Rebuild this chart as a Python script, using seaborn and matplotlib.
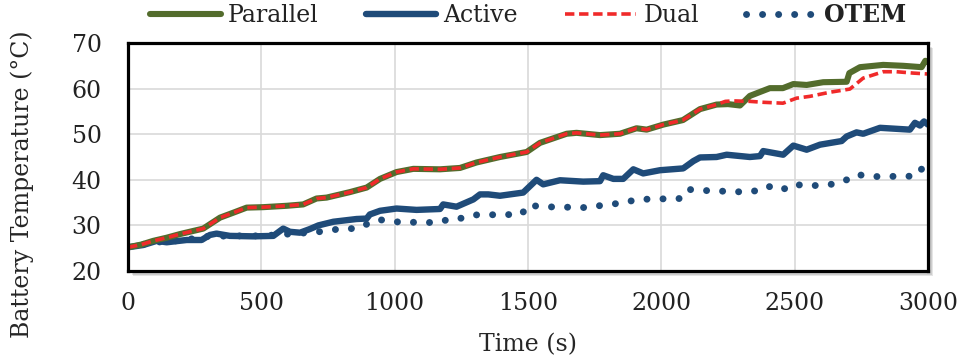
import numpy as np
import pandas as pd
import matplotlib
matplotlib.use("Agg")
import matplotlib.pyplot as plt
from matplotlib.patches import Rectangle
import seaborn as sns

# ---- data: battery temperature (degC) versus time (s) ----
parallel_t = [0, 50, 94, 145, 195, 282, 345, 400, 445, 507, 595, 657, 707, 745, 832, 895,
              945, 1007, 1070, 1170, 1245, 1307, 1395, 1495, 1545, 1645, 1682, 1770, 1845,
              1907, 1945, 2007, 2081, 2145, 2207, 2250, 2295, 2332, 2407, 2456, 2495, 2545,
              2607, 2695, 2705, 2745, 2832, 2907, 2976, 2990, 3000]
parallel_T = [25.2, 25.8, 26.6, 27.3, 28.1, 29.3, 31.7, 32.9, 33.9, 34.0, 34.3, 34.6, 35.9, 36.1, 37.3, 38.3,
              40.2, 41.7, 42.4, 42.3, 42.6, 43.8, 45.0, 46.1, 48.1, 50.1, 50.3, 49.8, 50.1,
              51.3, 51.0, 52.1, 53.1, 55.5, 56.5, 56.6, 56.3, 58.4, 60.1, 60.1, 61.0, 60.8,
              61.4, 61.5, 63.4, 64.7, 65.2, 65.0, 64.7, 66.1, 65.9]

dual_t = [0, 50, 94, 145, 195, 282, 345, 400, 445, 507, 595, 657, 707, 745, 832, 895,
          945, 1007, 1070, 1170, 1245, 1307, 1395, 1495, 1545, 1645, 1682, 1770, 1845,
          1907, 1945, 2007, 2081, 2145, 2207, 2240, 2270, 2332, 2382, 2456, 2507, 2557,
          2632, 2707, 2757, 2832, 2882, 2945, 3000]
dual_T = [25.2, 25.8, 26.6, 27.3, 28.1, 29.3, 31.7, 32.9, 33.9, 34.0, 34.3, 34.6, 35.9, 36.1, 37.3, 38.3,
          40.2, 41.7, 42.4, 42.3, 42.6, 43.8, 45.0, 46.1, 48.1, 50.1, 50.3, 49.8, 50.1,
          51.3, 51.0, 52.1, 53.1, 55.5, 56.5, 57.2, 57.3, 57.2, 57.0, 56.8, 57.9, 58.3,
          59.2, 59.9, 62.3, 63.7, 63.7, 63.4, 63.2]

active_t = [0, 57, 107, 145, 220, 276, 307, 332, 382, 470, 545, 582, 607, 645, 682, 714,
            770, 857, 895, 907, 945, 1007, 1082, 1170, 1182, 1232, 1295, 1320, 1351, 1395,
            1482, 1532, 1557, 1620, 1707, 1770, 1782, 1820, 1857, 1895, 1932, 1995, 2082,
            2120, 2145, 2207, 2245, 2332, 2370, 2382, 2457, 2495, 2545, 2595, 2676, 2695,
            2732, 2757, 2820, 2932, 2951, 2970, 2985, 3000]
active_T = [25.2, 25.7, 26.6, 26.3, 26.8, 26.8, 27.9, 28.2, 27.7, 27.6, 27.7, 29.3, 28.6, 28.4, 29.2, 30.0,
            30.8, 31.4, 31.5, 32.4, 33.2, 33.7, 33.4, 33.6, 34.6, 34.1, 35.7, 36.8, 36.8, 36.5,
            37.2, 40.0, 39.0, 39.9, 39.6, 39.7, 41.0, 40.2, 40.2, 42.3, 41.4, 42.1, 42.5,
            44.1, 44.9, 45.0, 45.5, 45.0, 45.2, 46.3, 45.5, 47.5, 46.6, 47.7, 48.5, 49.5,
            50.4, 50.1, 51.4, 51.0, 52.5, 51.9, 52.8, 52.1]

otem_t = [0, 100, 200, 300, 400, 500, 600, 700, 745, 800, 860, 900, 940, 990, 1060, 1120,
          1176, 1207, 1264, 1307, 1476, 1500, 1547, 1726, 1776, 1864, 1907, 2074, 2100,
          2139, 2323, 2376, 2400, 2451, 2495, 2545, 2655, 2704, 2732, 2782, 2957, 2985]
otem_T = [25.2, 26.3, 26.7, 27.6, 27.7, 27.7, 28.1, 28.5, 28.8, 29.3, 29.3, 30.4, 31.3, 30.8, 30.7, 30.6,
          30.8, 31.5, 31.6, 32.3, 32.4, 34.5, 34.1, 33.9, 34.4, 35.0, 35.7, 35.9, 37.9,
          37.7, 37.3, 37.8, 38.6, 37.7, 39.1, 38.6, 39.1, 40.2, 41.2, 40.7, 40.8, 43.1]

series_names = ["Parallel", "Active", "Dual", "OTEM"]
x_ticks = [0, 500, 1000, 1500, 2000, 2500, 3000]
y_ticks = [20, 30, 40, 50, 60, 70]

GREEN = "#536c2c"
BLUE = "#1f4b79"
RED = "#f02a2a"

sns.set_theme(style="white")
plt.rcParams["font.family"] = ["DejaVu Serif", "DejaVu Sans"]
plt.rcParams["text.color"] = "#222222"

fig = plt.figure(figsize=(9.61, 3.64), dpi=100)
ax = fig.add_axes([128 / 961, 1 - 271 / 364, 800 / 961, 228 / 364])

# soft drop shadow behind the plot frame
for i, a in enumerate([0.10, 0.10, 0.12, 0.14]):
    off = (4 - i) * 1.2
    fig.patches.append(Rectangle(((128 + off) / 961, (1 - 271 / 364) - off / 364),
                                 800 / 961, 228 / 364, transform=fig.transFigure,
                                 facecolor="black", edgecolor="none", alpha=a, zorder=-5))

df_par = pd.DataFrame({"t": parallel_t, "T": parallel_T})
df_dual = pd.DataFrame({"t": dual_t, "T": dual_T})
df_act = pd.DataFrame({"t": active_t, "T": active_T})
df_otem = pd.DataFrame({"t": otem_t, "T": otem_T})

sns.lineplot(data=df_otem, x="t", y="T", ax=ax, color=BLUE, lw=5.0,
             linestyle=(0, (0.01, 2.3)), dash_capstyle="round",
             label=series_names[3], zorder=3)
sns.lineplot(data=df_act, x="t", y="T", ax=ax, color=BLUE, lw=4.6,
             solid_capstyle="round", solid_joinstyle="round",
             label=series_names[1], zorder=4)
sns.lineplot(data=df_par, x="t", y="T", ax=ax, color=GREEN, lw=4.4,
             solid_capstyle="round", solid_joinstyle="round",
             label=series_names[0], zorder=5)
sns.lineplot(data=df_dual, x="t", y="T", ax=ax, color=RED, lw=2.6,
             linestyle=(0, (2.6, 1.3)), dash_capstyle="butt",
             label=series_names[2], zorder=6)

ax.set_xlim(0, 3000)
ax.set_ylim(20, 70)
ax.set_xticks(x_ticks)
ax.set_yticks(y_ticks)
ax.grid(True, color="#d9d9d9", lw=1.2)
ax.set_axisbelow(True)
for s in ax.spines.values():
    s.set_color("black")
    s.set_linewidth(2.3)
    s.set_zorder(10)
ax.tick_params(axis="both", length=0, labelsize=17, colors="#222222")
ax.tick_params(axis="y", pad=19)
ax.tick_params(axis="x", pad=15)

ax.set_xlabel("Time (s)", fontsize=17)
ax.set_ylabel("Battery Temperature (°C)", fontsize=17)
ax.xaxis.label.set_va("center")
ax.yaxis.label.set_va("center")
ax.xaxis.set_label_coords(0.5, -0.325)
ax.yaxis.set_label_coords(-0.1325, 0.38)

# legend ordered Parallel, Active, Dual, OTEM
handles, labels = ax.get_legend_handles_labels()
order = [labels.index(n) for n in series_names]
if ax.legend_ is not None:
    ax.legend_.remove()
leg = fig.legend([handles[i] for i in order], [labels[i] for i in order],
                 loc="center", bbox_to_anchor=(528 / 961, 1 - 15 / 364), ncol=4,
                 frameon=False, fontsize=17, handlelength=3.0, handletextpad=0.3,
                 columnspacing=2.0, borderaxespad=0, borderpad=0)
leg.get_texts()[3].set_fontweight("bold")

fig.savefig("out.png", dpi=100)
